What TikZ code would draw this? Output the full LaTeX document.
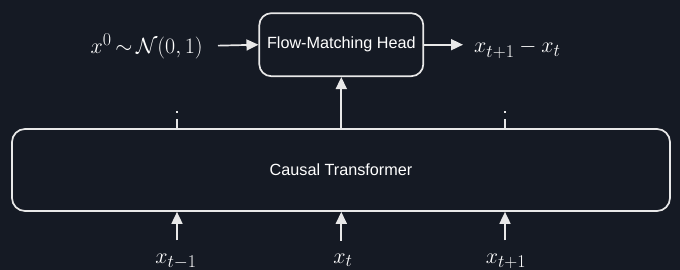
\RequirePackage{fix-cm}
\documentclass[tikz,border=0pt]{standalone}
\usepackage{fontspec}
\newfontfamily\labelsans{Liberation Sans}
\usetikzlibrary{arrows.meta}
\newcommand{\sbx}[1]{\mbox{\fontsize{18}{21}\selectfont$#1$}}
\definecolor{bgc}{HTML}{151A24}
\definecolor{fg}{HTML}{E8E8E8}
\tikzset{
  box/.style={draw=fg, line width=1.7pt, rounded corners=13pt, text=white,
    font=\labelsans\fontsize{16.2}{19}\selectfont, inner sep=0pt},
  arr/.style={draw=fg, line width=1.7pt, -{Triangle[length=12pt,width=11pt]}},
  stub/.style={draw=fg, line width=1.7pt, dash pattern=on 2pt off 6pt on 10pt off 0pt},
  mathlbl/.style={text=white, inner sep=0pt, font=\fontsize{22}{26}\selectfont},
}
\begin{document}
\begin{tikzpicture}[x=1pt, y=-1pt]
\fill[bgc] (0,0) rectangle (680,270);
\useasboundingbox (0,0) rectangle (680,270);
\node[box, minimum width=658pt, minimum height=82pt] (tr) at (341,170) {Causal Transformer};
\node[box, minimum width=164pt, minimum height=63pt, rounded corners=12pt] (head) at (341.3,44.7) {Flow-Matching Head};
\node[mathlbl, anchor=east] (noise) at (203,46) {$x^{\sbx{0}}\mkern-2mu\sim\mkern-2mu\mathcal{N}(0,1)$};
\node[mathlbl, anchor=base west] (out) at (474,53) {$x_{\sbx{t{+}1}}-x_{\sbx{t}}$};
\node[mathlbl, anchor=base] (xa) at (176,263) {$x_{\sbx{t{-}1}}$};
\node[mathlbl, anchor=base] (xb) at (343,263) {$x_{\sbx{t}}$};
\node[mathlbl, anchor=base] (xc) at (506,263) {$x_{\sbx{t{+}1}}$};
\coordinate (s1) at (177,111);
\coordinate (s2) at (505,111);
\draw[arr, shorten <=15pt] (noise.east) -- (head.west);
\draw[arr, shorten >=11pt] (head.east) -- (out.west |- head.east);
\draw[arr] (tr.north -| head.south) -- (head.south);
\draw[arr] (s1 |- xa.north) ++(0,-13) -- (s1 |- tr.south);
\draw[arr] (tr.south -| head.south) ++(0,29) -- (tr.south -| head.south);
\draw[arr] (s2 |- xc.north) ++(0,-13) -- (s2 |- tr.south);
\draw[stub] (s1) -- (s1 |- tr.north);
\draw[stub] (s2) -- (s2 |- tr.north);
\end{tikzpicture}
\end{document}
